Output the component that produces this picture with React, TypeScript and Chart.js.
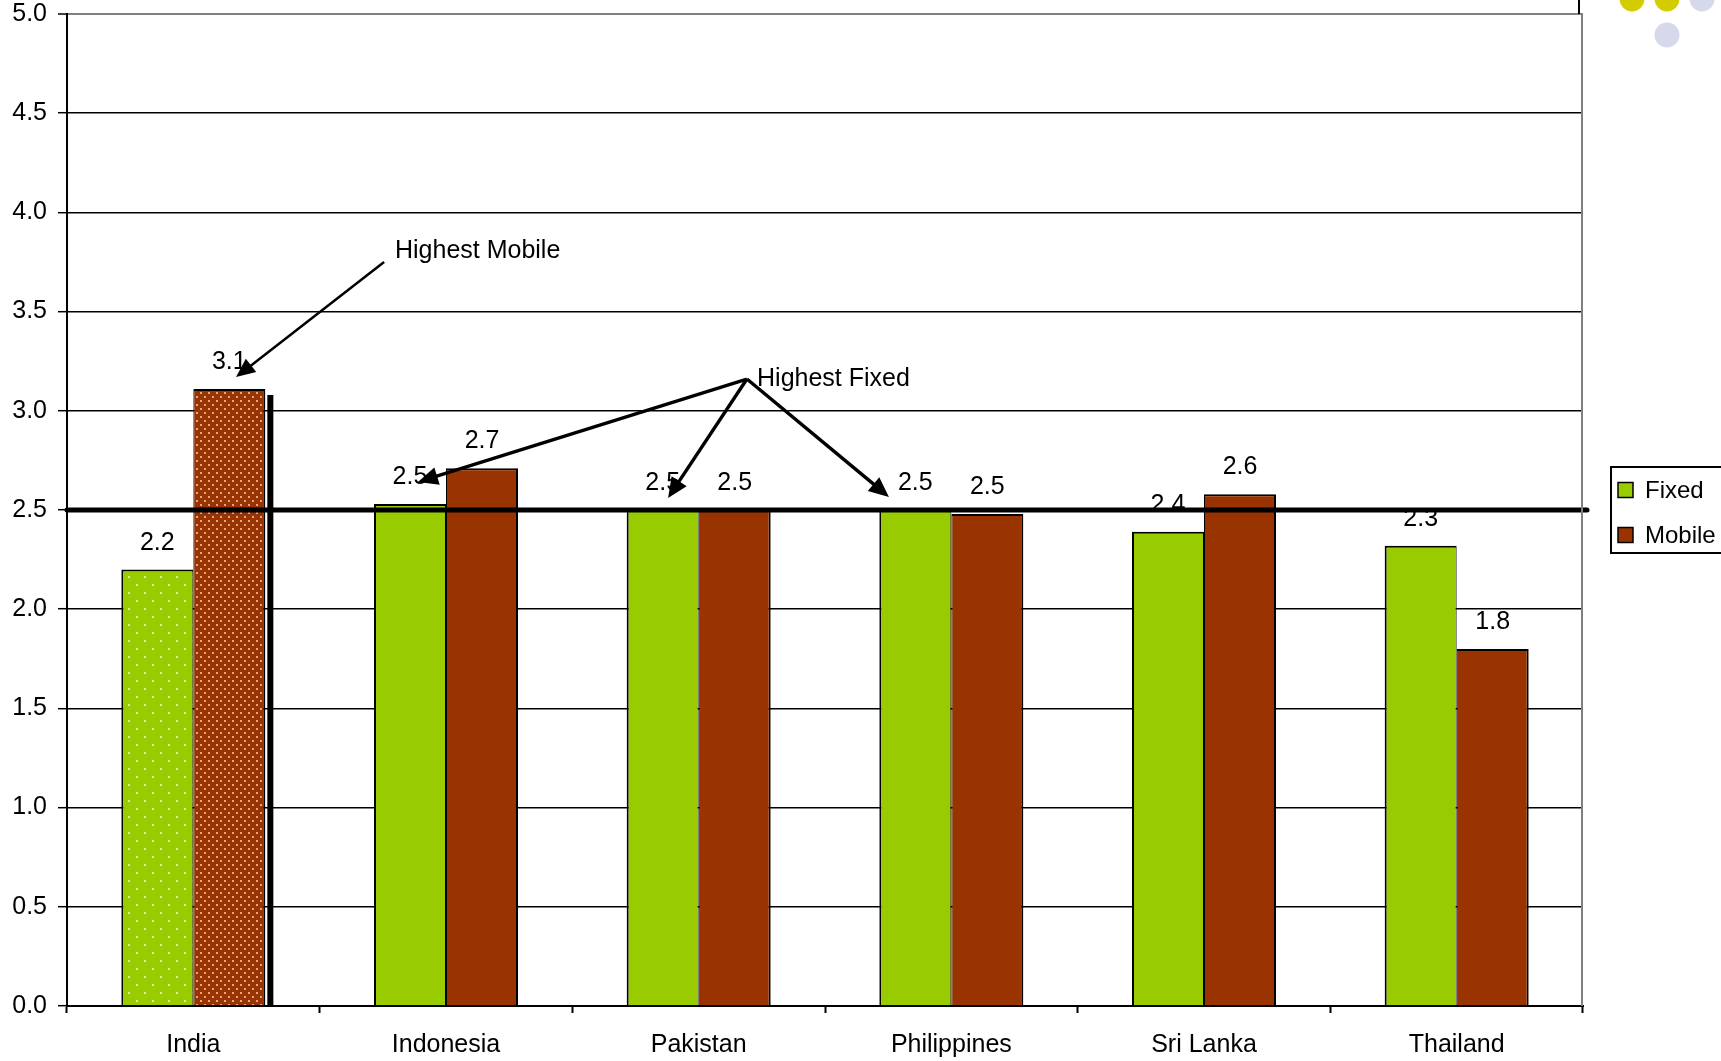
import React, { useEffect, useRef } from 'react';
import { Chart, registerables } from 'chart.js';

Chart.register(...registerables);

// ---------- data ----------
const categories = ['India', 'Indonesia', 'Pakistan', 'Philippines', 'Sri Lanka', 'Thailand'];
const seriesNames = ['Fixed', 'Mobile'];
const fixedValues = [2.2, 2.53, 2.5, 2.5, 2.39, 2.32];
const mobileValues = [3.11, 2.71, 2.5, 2.48, 2.58, 1.8];
const yMin = 0;
const yMax = 5;
const yStep = 0.5;
const referenceValue = 2.5;
const patternedCategory = 'India';

// annotation anchors in (category index, value) space
const mobileNote = { text: 'Highest Mobile', at: [0.798, 3.77], from: [0.755, 3.75], to: [0.169, 3.17] };
const fixedNote = {
  text: 'Highest Fixed',
  at: [2.231, 3.125],
  apex: [2.191, 3.16],
  tips: [
    [0.889, 2.641],
    [1.879, 2.561],
    [2.753, 2.566],
  ],
};

// ---------- styles ----------
const FONT = '"Liberation Sans", Arial, Helvetica, sans-serif';
const FONT_SIZE = 25;
const FIXED_COLOR = '#99CC00';
const MOBILE_COLOR = '#993300';

function makeDotPattern(bg: string, dot: string, size: number, dotSize: number) {
  const c = document.createElement('canvas');
  c.width = size;
  c.height = size;
  const g = c.getContext('2d')!;
  g.fillStyle = bg;
  g.fillRect(0, 0, size, size);
  g.fillStyle = dot;
  g.fillRect(0, 0, dotSize, dotSize);
  g.fillRect(size / 2, size / 2, dotSize, dotSize);
  return g.createPattern(c, 'repeat')!;
}

function drawArrow(ctx: CanvasRenderingContext2D, x1: number, y1: number, x2: number, y2: number, lw: number, headLen: number, headW: number) {
  const ang = Math.atan2(y2 - y1, x2 - x1);
  const bx = x2 - headLen * Math.cos(ang);
  const by = y2 - headLen * Math.sin(ang);
  ctx.lineWidth = lw;
  ctx.beginPath();
  ctx.moveTo(x1, y1);
  ctx.lineTo(bx + 2 * Math.cos(ang), by + 2 * Math.sin(ang));
  ctx.stroke();
  ctx.beginPath();
  ctx.moveTo(x2, y2);
  ctx.lineTo(bx + headW * Math.sin(ang), by - headW * Math.cos(ang));
  ctx.lineTo(bx - headW * Math.sin(ang), by + headW * Math.cos(ang));
  ctx.closePath();
  ctx.fill();
}

export default function App() {
  const canvasRef = useRef<HTMLCanvasElement | null>(null);

  useEffect(() => {
    const canvas = canvasRef.current;
    if (!canvas) return;

    const fixedPattern = makeDotPattern(FIXED_COLOR, '#DDF09E', 16, 2);
    const mobilePattern = makeDotPattern(MOBILE_COLOR, '#DDA88E', 8, 2);
    const pIdx = categories.indexOf(patternedCategory);

    const fixedBg = categories.map((_, i) => (i === pIdx ? fixedPattern : FIXED_COLOR));
    const mobileBg = categories.map((_, i) => (i === pIdx ? mobilePattern : MOBILE_COLOR));

    const overlay = {
      id: 'overlay',
      afterDatasetsDraw(chart: any) {
        const ctx: CanvasRenderingContext2D = chart.ctx;
        const xs = chart.scales.x;
        const ys = chart.scales.y;
        const area = chart.chartArea;
        ctx.save();

        // shadow for highlighted mobile bar
        const mMeta = chart.getDatasetMeta(1);
        const sb = mMeta.data[pIdx];
        if (sb) {
          const right = sb.x + sb.width / 2;
          ctx.fillStyle = '#000';
          ctx.fillRect(right + 2, sb.y + 6, 6, sb.base - sb.y - 6);
        }

        // value labels
        ctx.fillStyle = '#000';
        ctx.font = `${FONT_SIZE}px ${FONT}`;
        ctx.textAlign = 'center';
        ctx.textBaseline = 'alphabetic';
        [0, 1].forEach((di) => {
          const meta = chart.getDatasetMeta(di);
          const vals = di === 0 ? fixedValues : mobileValues;
          meta.data.forEach((bar: any, i: number) => {
            ctx.fillText(vals[i].toFixed(1), bar.x, bar.y - 20);
          });
        });

        // reference line
        const ry = ys.getPixelForValue(referenceValue);
        ctx.strokeStyle = '#000';
        ctx.lineWidth = 5;
        ctx.lineCap = 'round';
        ctx.beginPath();
        ctx.moveTo(area.left, ry);
        ctx.lineTo(area.right + 4, ry);
        ctx.stroke();
        ctx.lineCap = 'butt';

        // annotations
        const P = (p: number[]) => [xs.getPixelForValue(p[0]), ys.getPixelForValue(p[1])];
        ctx.strokeStyle = '#000';
        ctx.fillStyle = '#000';
        const [mx1, my1] = P(mobileNote.from);
        const [mx2, my2] = P(mobileNote.to);
        drawArrow(ctx, mx1, my1, mx2, my2, 2.5, 19, 8.5);
        const [ax, ay] = P(fixedNote.apex);
        fixedNote.tips.forEach((t) => {
          const [tx, ty] = P(t);
          drawArrow(ctx, ax, ay, tx, ty, 3.4, 20, 9);
        });
        ctx.font = `${FONT_SIZE}px ${FONT}`;
        ctx.textAlign = 'left';
        ctx.textBaseline = 'alphabetic';
        const [mtx, mty] = P(mobileNote.at);
        ctx.fillText(mobileNote.text, mtx, mty);
        const [ftx, fty] = P(fixedNote.at);
        ctx.fillText(fixedNote.text, ftx, fty);

        ctx.restore();
      },
      afterDraw(chart: any) {
        const ctx: CanvasRenderingContext2D = chart.ctx;
        const area = chart.chartArea;
        ctx.save();
        // right border of plot
        ctx.strokeStyle = '#808080';
        ctx.lineWidth = 2;
        ctx.beginPath();
        ctx.moveTo(area.right - 1, area.top);
        ctx.lineTo(area.right - 1, area.bottom);
        ctx.stroke();

        // legend
        const lx = area.right + 28;
        const ly = 467;
        ctx.strokeStyle = '#000';
        ctx.lineWidth = 2;
        ctx.strokeRect(lx, ly, 130, 86);
        const items = [
          { name: seriesNames[0], color: FIXED_COLOR, y: ly + 23 },
          { name: seriesNames[1], color: MOBILE_COLOR, y: ly + 68 },
        ];
        ctx.font = `24px ${FONT}`;
        ctx.textAlign = 'left';
        ctx.textBaseline = 'middle';
        items.forEach((it) => {
          ctx.fillStyle = it.color;
          ctx.fillRect(lx + 7, it.y - 7.5, 15, 15);
          ctx.lineWidth = 1.5;
          ctx.strokeStyle = '#000';
          ctx.strokeRect(lx + 7, it.y - 7.5, 15, 15);
          ctx.fillStyle = '#000';
          ctx.fillText(it.name, lx + 34, it.y + 1);
        });

        // slide decorations
        ctx.fillStyle = '#000';
        ctx.fillRect(area.right - 5, 0, 2, area.top);
        const dots = [
          { x: 1632, y: -1, c: '#D4CC00' },
          { x: 1667, y: -1, c: '#D4CC00' },
          { x: 1702, y: -1, c: '#D6D8EC' },
          { x: 1667, y: 35, c: '#D6D8EC' },
        ];
        dots.forEach((d) => {
          ctx.fillStyle = d.c;
          ctx.beginPath();
          ctx.arc(d.x, d.y, 12.5, 0, Math.PI * 2);
          ctx.fill();
        });
        ctx.restore();
      },
    };

    const chart = new Chart(canvas, {
      type: 'bar',
      data: {
        labels: categories,
        datasets: [
          {
            label: seriesNames[0],
            data: fixedValues,
            backgroundColor: fixedBg as any,
            borderColor: '#000',
            borderWidth: { top: 2, left: 2, right: 1, bottom: 0 } as any,
            borderSkipped: false as any,
            categoryPercentage: 0.57,
            barPercentage: 1,
          },
          {
            label: seriesNames[1],
            data: mobileValues,
            backgroundColor: mobileBg as any,
            borderColor: '#000',
            borderWidth: { top: 2, left: 1, right: 2, bottom: 0 } as any,
            borderSkipped: false as any,
            categoryPercentage: 0.57,
            barPercentage: 1,
          },
        ],
      },
      options: {
        responsive: false,
        animation: false,
        devicePixelRatio: 1,
        layout: { padding: { top: 14, right: 138, left: 0, bottom: 0 } },
        plugins: {
          legend: { display: false },
          tooltip: { enabled: false },
          title: { display: false },
        },
        scales: {
          x: {
            offset: true,
            grid: {
              display: true,
              offset: true,
              drawOnChartArea: false,
              drawTicks: true,
              tickLength: 7,
              tickColor: '#000',
              tickWidth: 2,
              color: '#000',
            },
            border: { display: true, color: '#000', width: 2 },
            ticks: {
              color: '#000',
              font: { family: FONT, size: FONT_SIZE },
              padding: 17,
              maxRotation: 0,
              autoSkip: false,
            },
            afterFit: (s: any) => {
              s.height = 55;
              s.paddingLeft = 0;
              s.paddingRight = 0;
            },
          },
          y: {
            min: yMin,
            max: yMax,
            ticks: {
              stepSize: yStep,
              color: '#000',
              font: { family: FONT, size: FONT_SIZE, lineHeight: 1 },
              padding: 11,
              callback: (v: any) => Number(v).toFixed(1),
            },
            grid: {
              color: (c: any) => (c.tick && c.tick.value === yMax ? '#808080' : '#000'),
              lineWidth: (c: any) => (c.tick && c.tick.value === yMax ? 2 : 1.4),
              tickColor: '#000',
              tickLength: 9,
              tickWidth: 1.5,
              drawTicks: true,
            },
            border: { display: true, color: '#000', width: 2 },
            afterFit: (s: any) => {
              s.width = 67;
              s.paddingTop = 0;
              s.paddingBottom = 0;
            },
          },
        },
      },
      plugins: [overlay],
    });

    return () => {
      chart.destroy();
    };
  }, []);

  return (
    <div style={{ position: 'fixed', left: 0, top: 0, width: 1721, height: 1061, background: '#fff' }}>
      <canvas ref={canvasRef} width={1721} height={1061} style={{ display: 'block', width: 1721, height: 1061 }} />
    </div>
  );
}
